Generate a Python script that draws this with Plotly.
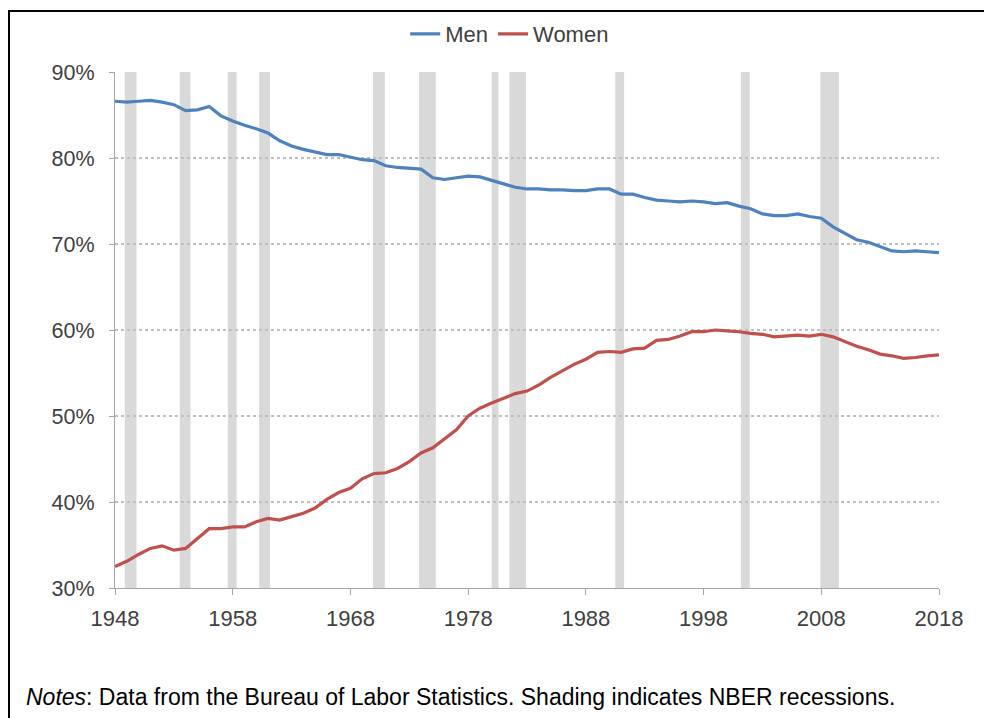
import plotly.graph_objects as go

years = list(range(1948, 2019))
men = [86.6, 86.5, 86.6, 86.7, 86.5, 86.2, 85.5, 85.6, 86.0, 84.9,
       84.3, 83.8, 83.4, 82.9, 82.0, 81.4, 81.0, 80.7, 80.4, 80.4,
       80.1, 79.8, 79.7, 79.1, 78.9, 78.8, 78.7, 77.7, 77.5, 77.7,
       77.9, 77.8, 77.4, 77.0, 76.6, 76.4, 76.4, 76.3, 76.3, 76.2,
       76.2, 76.4, 76.4, 75.8, 75.8, 75.4, 75.1, 75.0, 74.9, 75.0,
       74.9, 74.7, 74.8, 74.4, 74.1, 73.5, 73.3, 73.3, 73.5, 73.2,
       73.0, 72.0, 71.2, 70.5, 70.2, 69.7, 69.2, 69.1, 69.2, 69.1,
       69.0]
women = [32.5, 33.1, 33.9, 34.6, 34.9, 34.4, 34.6, 35.7, 36.9, 36.9,
         37.1, 37.1, 37.7, 38.1, 37.9, 38.3, 38.7, 39.3, 40.3, 41.1,
         41.6, 42.7, 43.3, 43.4, 43.9, 44.7, 45.7, 46.3, 47.3, 48.4,
         50.0, 50.9, 51.5, 52.1, 52.6, 52.9, 53.6, 54.5, 55.3, 56.0,
         56.6, 57.4, 57.5, 57.4, 57.8, 57.9, 58.8, 58.9, 59.3, 59.8,
         59.8, 60.0, 59.9, 59.8, 59.6, 59.5, 59.2, 59.3, 59.4, 59.3,
         59.5, 59.2, 58.6, 58.1, 57.7, 57.2, 57.0, 56.7, 56.8, 57.0,
         57.1]

# NBER recessions (decimal years)
rec_start = [1948.83, 1953.5, 1957.58, 1960.25, 1969.92, 1973.83, 1980.0, 1981.5, 1990.5, 2001.17, 2007.92]
rec_end   = [1949.83, 1954.42, 1958.33, 1961.17, 1970.92, 1975.25, 1980.58, 1982.92, 1991.25, 2001.92, 2009.5]

x_ticks = list(range(1948, 2019, 10))
y_ticks = [30, 40, 50, 60, 70, 80, 90]

FONT = "Liberation Sans, Arial, sans-serif"
BLUE = "#4F81BD"
RED = "#C0504D"
TXT = "#404040"

fig = go.Figure()
fig.add_trace(go.Scatter(x=years, y=men, mode="lines", name="Men",
                         line=dict(color=BLUE, width=3.2)))
fig.add_trace(go.Scatter(x=years, y=women, mode="lines", name="Women",
                         line=dict(color=RED, width=3.2)))

for s, e in zip(rec_start, rec_end):
    fig.add_shape(type="rect", xref="x", yref="paper", x0=s, x1=e, y0=0, y1=1,
                  fillcolor="#D9D9D9", line=dict(width=0), layer="between")

L, R, T, B = 115, 45, 72, 130
W, H = 984, 718
pw, ph = W - L - R, H - T - B

# outer frame
fig.add_shape(type="rect", xref="paper", yref="paper",
              x0=(9 - L) / pw, x1=(1000 - L) / pw,
              y0=(H - B - 740) / ph, y1=(H - B - 11) / ph,
              line=dict(color="black", width=2), fillcolor="rgba(0,0,0,0)", layer="above")

fig.add_annotation(xref="paper", yref="paper",
                   x=(24 - L) / pw, y=(H - B - 697) / ph,
                   xanchor="left", yanchor="middle", showarrow=False,
                   text="<i>Notes</i>: Data from the Bureau of Labor Statistics. Shading indicates NBER recessions.",
                   font=dict(family=FONT, size=23, color="#000000"))

fig.update_layout(
    width=W, height=H,
    margin=dict(l=L, r=R, t=T, b=B, autoexpand=False),
    paper_bgcolor="white", plot_bgcolor="white",
    font=dict(family=FONT, size=22, color=TXT),
    showlegend=True,
    legend=dict(orientation="h", xref="container", yref="container",
                x=0.518, y=1 - 34 / H, xanchor="center", yanchor="middle",
                font=dict(family=FONT, size=22, color=TXT),
                itemwidth=30, tracegroupgap=0, bgcolor="rgba(0,0,0,0)"),
    xaxis=dict(range=[1948, 2018], tickvals=x_ticks, ticktext=[str(v) for v in x_ticks],
               showgrid=False, zeroline=False, showline=True, linecolor="#A6A6A6", linewidth=1.2,
               ticks="outside", ticklen=6, tickcolor="#A6A6A6", tickwidth=1.2,
               ticklabelstandoff=4,
               tickfont=dict(family=FONT, size=22, color=TXT)),
    yaxis=dict(range=[30, 90], tickvals=y_ticks, ticktext=[f"{v}%" for v in y_ticks],
               showgrid=True, gridcolor="#BFBFBF", griddash="dot", gridwidth=1.5,
               zeroline=False, showline=True, linecolor="#A6A6A6", linewidth=1.2,
               ticks="outside", ticklen=5, tickcolor="#A6A6A6",
               ticklabelstandoff=10,
               tickfont=dict(family=FONT, size=21.5, color=TXT)),
)

fig.write_html("out.html", config={"displayModeBar": False},
               post_script="document.body.style.margin='0';document.body.style.overflow='hidden';")
